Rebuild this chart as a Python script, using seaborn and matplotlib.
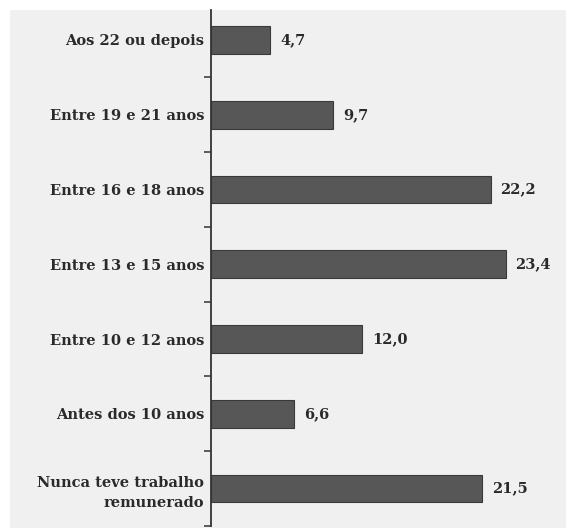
import matplotlib
matplotlib.use("Agg")
import matplotlib.pyplot as plt
import seaborn as sns
import pandas as pd
from matplotlib.patches import Rectangle

categories = [
    "Aos 22 ou depois",
    "Entre 19 e 21 anos",
    "Entre 16 e 18 anos",
    "Entre 13 e 15 anos",
    "Entre 10 e 12 anos",
    "Antes dos 10 anos",
    "Nunca teve trabalho\nremunerado",
]
values = [4.7, 9.7, 22.2, 23.4, 12.0, 6.6, 21.5]

df = pd.DataFrame({"faixa": categories, "pct": values})

sns.set_theme(style="white")
plt.rcParams["font.family"] = ["DejaVu Serif"]

W, H = 566, 528
fig = plt.figure(figsize=(W / 100, H / 100), dpi=100, facecolor="white")

# light gray panel behind the chart
fig.patches.append(Rectangle((10 / W, 0), 1 - 10 / W, (H - 10) / H,
                             transform=fig.transFigure, facecolor="#f0f0f0",
                             edgecolor="none", zorder=-10))

ax = fig.add_axes([211 / W, 2 / H, (W - 211) / W, (H - 12) / H])
ax.set_facecolor("none")
ax.set_zorder(5)

sns.barplot(data=df, x="pct", y="faixa", orient="h", color="#575757",
            saturation=1, width=0.37, edgecolor="#3a3a3a", linewidth=0.8, ax=ax)

ax.set_xlim(0, (W - 211) / 12.6)
ax.set_ylim(6.5, -0.4)

labels = [f"{v:.1f}".replace(".", ",") for v in values]
ax.bar_label(ax.containers[0], labels=labels, padding=7,
             fontsize=10.5, fontweight="bold", color="#2a2a2a")

ax.set_xlabel("")
ax.set_ylabel("")
ax.set_xticks([])
ax.tick_params(axis="y", which="major", length=0, pad=5)
for t in ax.get_yticklabels():
    t.set_fontweight("bold")
    t.set_fontsize(10.5)
    t.set_color("#2a2a2a")
    t.set_horizontalalignment("right")
    t.set_multialignment("right")
    t.set_linespacing(1.55)

ax.set_yticks([i + 0.5 for i in range(len(categories))], minor=True)
ax.tick_params(axis="y", which="minor", length=5, width=1.1, color="#333333",
               direction="out", left=True)

for s in ["top", "right", "bottom"]:
    ax.spines[s].set_visible(False)
ax.spines["left"].set_color("#333333")
ax.spines["left"].set_linewidth(1.3)

fig.savefig("out.png", dpi=100, facecolor="white")
